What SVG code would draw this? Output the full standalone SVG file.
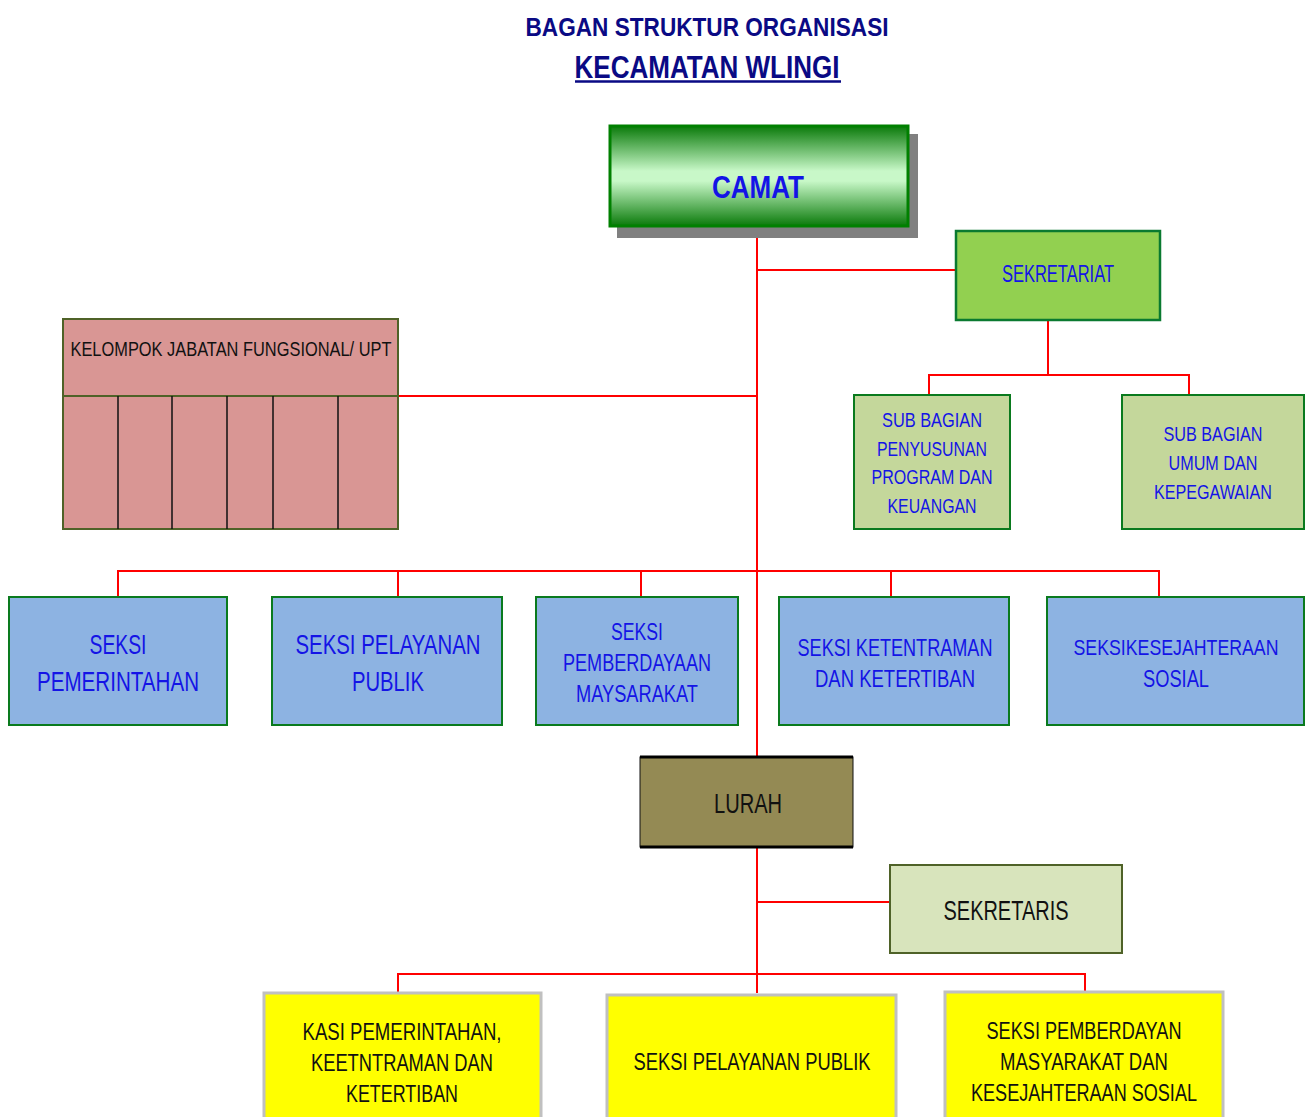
<svg xmlns="http://www.w3.org/2000/svg" width="1310" height="1117" viewBox="0 0 1310 1117">
<style>
text{font-family:"Liberation Sans",Arial,sans-serif;text-anchor:middle;dominant-baseline:central}
.ttl{font-weight:bold;fill:#0a0a84}
.blue{fill:#1414e6}
.blk{fill:#111}
.ln{stroke:#ff0000;stroke-width:2;fill:none}
.bx-blue{fill:#8db3e2;stroke:#0a7a1e;stroke-width:2}
.bx-sub{fill:#c4d79b;stroke:#0a7a1e;stroke-width:2}
.bx-yel{fill:#ffff00;stroke:#c0c0c0;stroke-width:3}
</style>
<defs>
<linearGradient id="gcam" x1="0" y1="0" x2="0" y2="1">
<stop offset="0" stop-color="#0a7a0a"/>
<stop offset="0.45" stop-color="#c8f8c8"/>
<stop offset="0.55" stop-color="#c8f8c8"/>
<stop offset="1" stop-color="#0a7a0a"/>
</linearGradient>
</defs>
<rect width="1310" height="1117" fill="#fff"/>
<g id="title">
<text class="ttl" x="707" y="27" font-size="25" textLength="363" lengthAdjust="spacingAndGlyphs">BAGAN STRUKTUR ORGANISASI</text>
<text class="ttl" x="707" y="67" font-size="31" textLength="265" lengthAdjust="spacingAndGlyphs">KECAMATAN WLINGI</text>
<line x1="575" y1="81.5" x2="841" y2="81.5" stroke="#0a0a84" stroke-width="2.5"/>
</g>
<g id="connectors">
<path class="ln" d="M757 227V757M757 847V993"/>
<path class="ln" d="M757 270H956"/>
<path class="ln" d="M1048 320V375M929 395V375H1189V395"/>
<path class="ln" d="M398 396H757"/>
<path class="ln" d="M118 597V571H1159V597M398 571V597M641 571V597M891 571V597"/>
<path class="ln" d="M757 902H890"/>
<path class="ln" d="M398 993V974H1085V993"/>
</g>
<g id="camat">
<rect x="617" y="134" width="301" height="104" fill="#808080"/>
<rect x="610" y="126" width="298" height="100" fill="url(#gcam)" stroke="#008000" stroke-width="3"/>
<text class="blue" x="758" y="187" font-size="32" font-weight="bold" textLength="92" lengthAdjust="spacingAndGlyphs">CAMAT</text>
</g>
<g id="sekretariat">
<rect x="956" y="231" width="204" height="89" fill="#92d050" stroke="#0a7a30" stroke-width="2.5"/>
<text class="blue" x="1058" y="274" font-size="23" textLength="112" lengthAdjust="spacingAndGlyphs">SEKRETARIAT</text>
</g>
<g id="kelompok">
<rect x="63" y="319" width="335" height="210" fill="#d99694" stroke="#4f6228" stroke-width="2"/>
<line x1="63" y1="396" x2="398" y2="396" stroke="#4f6228" stroke-width="2"/>
<path d="M118 396V529M172 396V529M227 396V529M273 396V529M338 396V529" stroke="#111" stroke-width="1.5"/>
<text class="blk" x="231" y="348" font-size="21" textLength="321" lengthAdjust="spacingAndGlyphs">KELOMPOK JABATAN FUNGSIONAL/ UPT</text>
</g>
<g id="subbag-program">
<rect class="bx-sub" x="854" y="395" width="156" height="134"/>
<text class="blue" x="932" y="419" font-size="21" textLength="100" lengthAdjust="spacingAndGlyphs">SUB BAGIAN</text>
<text class="blue" x="932" y="448" font-size="21" textLength="110" lengthAdjust="spacingAndGlyphs">PENYUSUNAN</text>
<text class="blue" x="932" y="476" font-size="21" textLength="121" lengthAdjust="spacingAndGlyphs">PROGRAM DAN</text>
<text class="blue" x="932" y="505" font-size="21" textLength="89" lengthAdjust="spacingAndGlyphs">KEUANGAN</text>
</g>
<g id="subbag-umum">
<rect class="bx-sub" x="1122" y="395" width="182" height="134"/>
<text class="blue" x="1213" y="433" font-size="21" textLength="99" lengthAdjust="spacingAndGlyphs">SUB BAGIAN</text>
<text class="blue" x="1213" y="462" font-size="21" textLength="89" lengthAdjust="spacingAndGlyphs">UMUM DAN</text>
<text class="blue" x="1213" y="491" font-size="21" textLength="118" lengthAdjust="spacingAndGlyphs">KEPEGAWAIAN</text>
</g>
<g id="seksi-pemerintahan">
<rect class="bx-blue" x="9" y="597" width="218" height="128"/>
<text class="blue" x="118" y="644" font-size="28" textLength="57" lengthAdjust="spacingAndGlyphs">SEKSI</text>
<text class="blue" x="118" y="681" font-size="28" textLength="162" lengthAdjust="spacingAndGlyphs">PEMERINTAHAN</text>
</g>
<g id="seksi-pelayanan">
<rect class="bx-blue" x="272" y="597" width="230" height="128"/>
<text class="blue" x="388" y="644" font-size="28" textLength="185" lengthAdjust="spacingAndGlyphs">SEKSI PELAYANAN</text>
<text class="blue" x="388" y="681" font-size="28" textLength="72" lengthAdjust="spacingAndGlyphs">PUBLIK</text>
</g>
<g id="seksi-pemberdayaan">
<rect class="bx-blue" x="536" y="597" width="202" height="128"/>
<text class="blue" x="637" y="631" font-size="24" textLength="52" lengthAdjust="spacingAndGlyphs">SEKSI</text>
<text class="blue" x="637" y="662" font-size="24" textLength="148" lengthAdjust="spacingAndGlyphs">PEMBERDAYAAN</text>
<text class="blue" x="637" y="693" font-size="24" textLength="122" lengthAdjust="spacingAndGlyphs">MAYSARAKAT</text>
</g>
<g id="seksi-ketentraman">
<rect class="bx-blue" x="779" y="597" width="230" height="128"/>
<text class="blue" x="895" y="647" font-size="24" textLength="195" lengthAdjust="spacingAndGlyphs">SEKSI KETENTRAMAN</text>
<text class="blue" x="895" y="678" font-size="24" textLength="160" lengthAdjust="spacingAndGlyphs">DAN KETERTIBAN</text>
</g>
<g id="seksi-kesejahteraan">
<rect class="bx-blue" x="1047" y="597" width="257" height="128"/>
<text class="blue" x="1176" y="647" font-size="22" textLength="205" lengthAdjust="spacingAndGlyphs">SEKSIKESEJAHTERAAN</text>
<text class="blue" x="1176" y="678" font-size="24" textLength="66" lengthAdjust="spacingAndGlyphs">SOSIAL</text>
</g>
<g id="lurah">
<rect x="640" y="757" width="213" height="90" fill="#948a54" stroke="#111" stroke-width="1"/>
<path d="M640 757H853M640 847H853" stroke="#000" stroke-width="3"/>
<text class="blk" x="748" y="804" font-size="27" textLength="68" lengthAdjust="spacingAndGlyphs">LURAH</text>
</g>
<g id="sekretaris">
<rect x="890" y="865" width="232" height="88" fill="#d8e4bc" stroke="#4f6228" stroke-width="2"/>
<text class="blk" x="1006" y="910" font-size="28" textLength="125" lengthAdjust="spacingAndGlyphs">SEKRETARIS</text>
</g>
<g id="kasi-pemerintahan">
<rect class="bx-yel" x="264" y="993" width="277" height="130"/>
<text class="blk" x="402" y="1031" font-size="24" textLength="199" lengthAdjust="spacingAndGlyphs">KASI PEMERINTAHAN,</text>
<text class="blk" x="402" y="1062" font-size="24" textLength="182" lengthAdjust="spacingAndGlyphs">KEETNTRAMAN DAN</text>
<text class="blk" x="402" y="1093" font-size="24" textLength="112" lengthAdjust="spacingAndGlyphs">KETERTIBAN</text>
</g>
<g id="seksi-pelayanan-publik">
<rect class="bx-yel" x="607" y="995" width="289" height="130"/>
<text class="blk" x="752" y="1061" font-size="24" textLength="237" lengthAdjust="spacingAndGlyphs">SEKSI PELAYANAN PUBLIK</text>
</g>
<g id="seksi-pemberdayan-masyarakat">
<rect class="bx-yel" x="945" y="992" width="278" height="130"/>
<text class="blk" x="1084" y="1030" font-size="24" textLength="195" lengthAdjust="spacingAndGlyphs">SEKSI PEMBERDAYAN</text>
<text class="blk" x="1084" y="1061" font-size="24" textLength="168" lengthAdjust="spacingAndGlyphs">MASYARAKAT DAN</text>
<text class="blk" x="1084" y="1092" font-size="24" textLength="226" lengthAdjust="spacingAndGlyphs">KESEJAHTERAAN SOSIAL</text>
</g>
</svg>
